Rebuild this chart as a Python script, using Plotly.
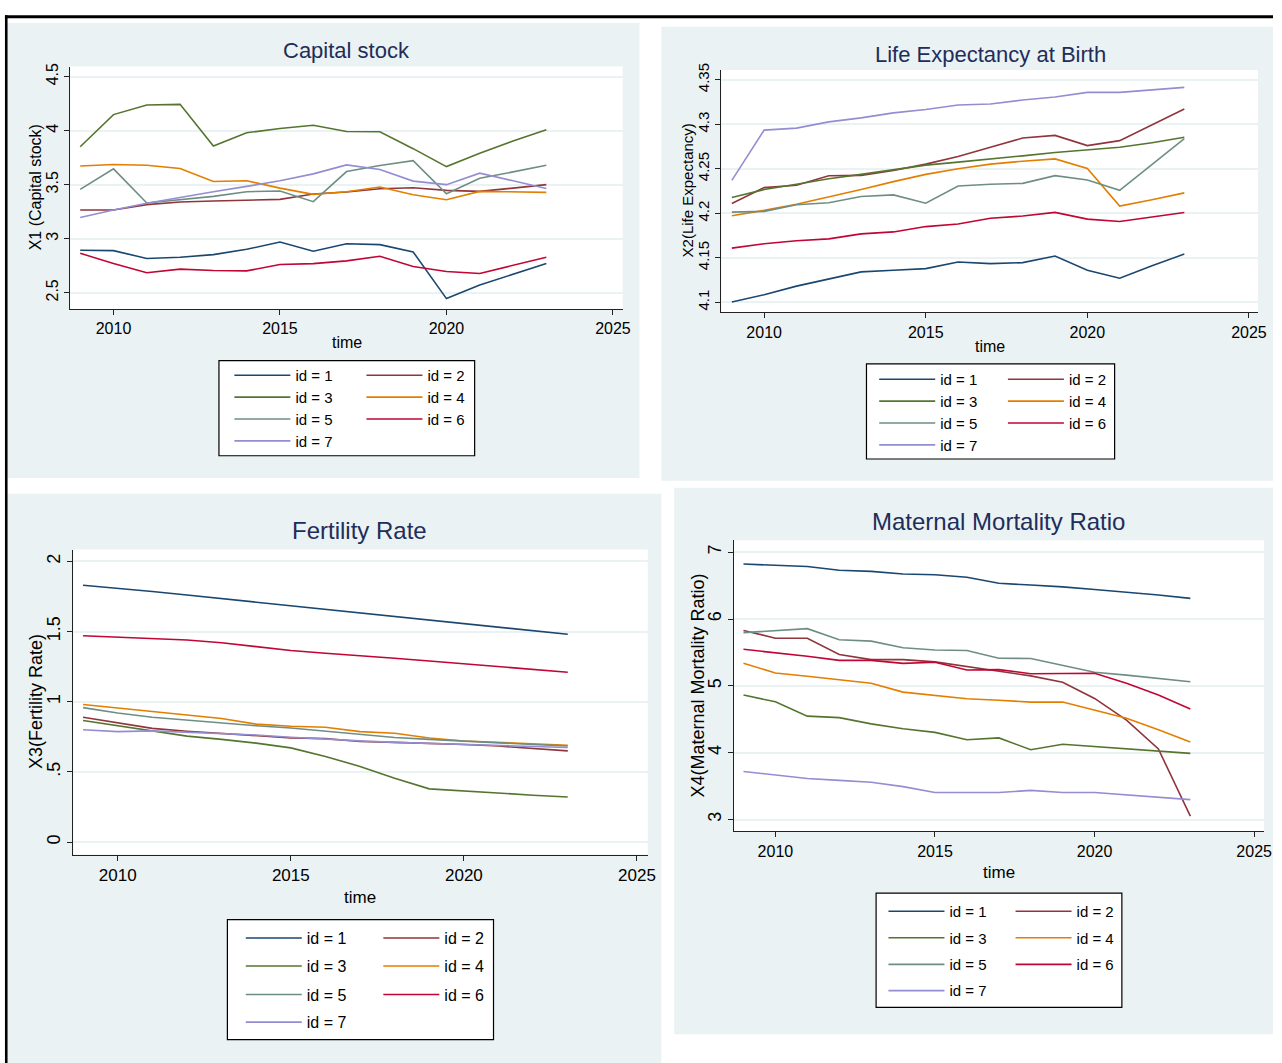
import plotly.graph_objects as go

# ---------------- data ----------------
years = list(range(2009, 2024))
series_names = ["id = 1", "id = 2", "id = 3", "id = 4", "id = 5", "id = 6", "id = 7"]

capital_stock = [
    [2.893, 2.890, 2.817, 2.829, 2.853, 2.902, 2.970, 2.884, 2.954, 2.945, 2.878, 2.446, 2.572, 2.673, 2.770],
    [3.266, 3.266, 3.315, 3.340, 3.349, 3.355, 3.364, 3.413, 3.432, 3.462, 3.471, 3.447, 3.438, 3.468, 3.500],
    [3.851, 4.148, 4.237, 4.243, 3.857, 3.980, 4.020, 4.050, 3.992, 3.989, 3.833, 3.667, 3.790, 3.903, 4.007],
    [3.673, 3.686, 3.680, 3.649, 3.530, 3.536, 3.468, 3.410, 3.435, 3.478, 3.407, 3.361, 3.438, 3.432, 3.429],
    [3.456, 3.646, 3.331, 3.358, 3.392, 3.435, 3.441, 3.343, 3.621, 3.677, 3.722, 3.416, 3.560, 3.618, 3.680],
    [2.865, 2.770, 2.685, 2.719, 2.706, 2.703, 2.761, 2.770, 2.795, 2.838, 2.743, 2.697, 2.679, 2.755, 2.829],
    [3.196, 3.266, 3.328, 3.383, 3.435, 3.484, 3.536, 3.600, 3.683, 3.640, 3.533, 3.500, 3.606, 3.536, 3.465],
]

life_expectancy = [
    [4.1004, 4.1085, 4.1182, 4.1264, 4.1342, 4.1360, 4.1379, 4.1453, 4.1435, 4.1446, 4.1520, 4.1360, 4.1271, 4.1412, 4.1542],
    [4.2110, 4.2289, 4.2315, 4.2423, 4.2426, 4.2482, 4.2553, 4.2638, 4.2742, 4.2846, 4.2876, 4.2761, 4.2817, 4.2999, 4.3173],
    [4.2178, 4.2267, 4.2326, 4.2389, 4.2438, 4.2493, 4.2542, 4.2575, 4.2608, 4.2646, 4.2683, 4.2712, 4.2742, 4.2794, 4.2854],
    [4.1973, 4.2033, 4.2103, 4.2181, 4.2267, 4.2356, 4.2438, 4.2501, 4.2553, 4.2586, 4.2612, 4.2504, 4.2081, 4.2152, 4.2230],
    [4.2014, 4.2022, 4.2096, 4.2118, 4.2189, 4.2207, 4.2114, 4.2308, 4.2326, 4.2337, 4.2423, 4.2374, 4.2259, 4.2549, 4.2839],
    [4.1609, 4.1658, 4.1691, 4.1713, 4.1769, 4.1791, 4.1851, 4.1880, 4.1944, 4.1970, 4.2010, 4.1935, 4.1909, 4.1961, 4.2010],
    [4.2370, 4.2935, 4.2958, 4.3028, 4.3073, 4.3129, 4.3166, 4.3218, 4.3229, 4.3273, 4.3307, 4.3359, 4.3359, 4.3389, 4.3415],
]

fertility_rate = [
    [1.830, 1.810, 1.785, 1.760, 1.735, 1.710, 1.685, 1.660, 1.635, 1.610, 1.585, 1.560, 1.535, 1.510, 1.480],
    [0.889, 0.847, 0.810, 0.790, 0.774, 0.758, 0.742, 0.737, 0.716, 0.710, 0.705, 0.695, 0.684, 0.668, 0.650],
    [0.866, 0.829, 0.787, 0.755, 0.732, 0.705, 0.671, 0.610, 0.539, 0.455, 0.379, 0.363, 0.347, 0.334, 0.321],
    [0.980, 0.955, 0.930, 0.905, 0.880, 0.840, 0.825, 0.818, 0.787, 0.775, 0.742, 0.720, 0.710, 0.700, 0.690],
    [0.958, 0.920, 0.889, 0.868, 0.847, 0.829, 0.813, 0.790, 0.763, 0.745, 0.732, 0.718, 0.705, 0.695, 0.684],
    [1.470, 1.460, 1.450, 1.440, 1.420, 1.390, 1.365, 1.345, 1.330, 1.310, 1.290, 1.270, 1.250, 1.230, 1.210],
    [0.800, 0.787, 0.792, 0.784, 0.776, 0.763, 0.747, 0.732, 0.721, 0.710, 0.703, 0.695, 0.687, 0.682, 0.674],
]

maternal_mortality = [
    [6.823, 6.807, 6.785, 6.729, 6.713, 6.674, 6.663, 6.624, 6.536, 6.508, 6.481, 6.442, 6.403, 6.359, 6.309],
    [5.829, 5.713, 5.713, 5.470, 5.392, 5.392, 5.359, 5.287, 5.215, 5.149, 5.055, 4.812, 4.486, 4.055, 3.050],
    [4.862, 4.762, 4.547, 4.525, 4.431, 4.359, 4.304, 4.193, 4.221, 4.044, 4.127, 4.094, 4.061, 4.028, 3.989],
    [5.337, 5.193, 5.144, 5.094, 5.039, 4.906, 4.856, 4.807, 4.785, 4.757, 4.757, 4.635, 4.514, 4.343, 4.160],
    [5.796, 5.823, 5.856, 5.691, 5.669, 5.569, 5.536, 5.530, 5.414, 5.409, 5.304, 5.204, 5.160, 5.110, 5.061],
    [5.547, 5.497, 5.442, 5.381, 5.381, 5.337, 5.354, 5.238, 5.243, 5.182, 5.182, 5.188, 5.040, 4.862, 4.652],
    [3.718, 3.663, 3.613, 3.586, 3.558, 3.492, 3.403, 3.403, 3.403, 3.436, 3.403, 3.403, 3.365, 3.331, 3.298],
]

x_ticks = [2010, 2015, 2020, 2025]
y_ticks_1 = [2.5, 3, 3.5, 4, 4.5]
y_labels_1 = ["2.5", "3", "3.5", "4", "4.5"]
y_ticks_2 = [4.1, 4.15, 4.2, 4.25, 4.3, 4.35]
y_labels_2 = ["4.1", "4.15", "4.2", "4.25", "4.3", "4.35"]
y_ticks_3 = [0, 0.5, 1, 1.5, 2]
y_labels_3 = ["0", ".5", "1", "1.5", "2"]
y_ticks_4 = [3, 4, 5, 6, 7]
y_labels_4 = ["3", "4", "5", "6", "7"]

titles = ["Capital stock", "Life Expectancy at Birth", "Fertility Rate", "Maternal Mortality Ratio"]
y_titles = ["X1 (Capital stock)", "X2(Life Expectancy)", "X3(Fertility Rate)", "X4(Maternal Mortality Ratio)"]
x_title = "time"

# ---------------- styling / layout (pixels) ----------------
W, H = 1282, 1063
FONT = "Liberation Sans, Arial, Helvetica, sans-serif"
colors = ["#1A476F", "#90353B", "#55752F", "#E37E00", "#6E8E84", "#C10534", "#938DD2"]
BG = "#EAF2F3"
TITLE_C = "#1F2D5A"
AX_C = "#222222"

panels = [
    dict(data=capital_stock, yt=y_ticks_1, yl=y_labels_1,
         bg=(7.3, 16, 644, 474), plot=(70.7, 60, 627, 304),
         xr=[2008.70, 2025.29], yr=[2.35, 4.592],
         title_xy=(349, 44), tsize=22, xt_xy=(349, 338), yt_xy=(35.8, 182),
         ytsize=16, ticksize=16, xticksize=16, xtsize=16,
         legbox=(220.5, 356, 478, 451.7), legtext=(297, 430), legrows=(371, 393, 415, 437), legsize=15),
    dict(data=life_expectancy, yt=y_ticks_2, yl=y_labels_2,
         bg=(666, 20, 1282, 477), plot=(726.6, 63.3, 1266.9, 307.3),
         xr=[2008.68, 2025.28], yr=[4.0888, 4.3612],
         title_xy=(997, 48), tsize=22, xt_xy=(997, 341.7), yt_xy=(692.5, 185),
         ytsize=15, ticksize=15, xticksize=16, xtsize=16,
         legbox=(872.6, 359.3, 1122.5, 455), legtext=(946.4, 1076), legrows=(375, 397, 419, 441), legsize=15),
    dict(data=fertility_rate, yt=y_ticks_3, yl=y_labels_3,
         bg=(7.3, 490, 666, 1063), plot=(73.9, 546.2, 652.3, 853.2),
         xr=[2008.72, 2025.31], yr=[-0.089, 2.0835],
         title_xy=(362, 527), tsize=24, xt_xy=(363, 896), yt_xy=(35.5, 699.3),
         ytsize=18, ticksize=18, xticksize=17, xtsize=17,
         legbox=(229, 918.7, 497, 1039.5), legtext=(308.5, 447), legrows=(937.2, 965.5, 994.1, 1022), legsize=16),
    dict(data=maternal_mortality, yt=y_ticks_4, yl=y_labels_4,
         bg=(679, 484, 1282, 1034), plot=(739.1, 536.9, 1273, 829.8),
         xr=[2008.70, 2025.31], yr=[2.823, 7.177],
         title_xy=(1006, 518), tsize=24, xt_xy=(1005.7, 871), yt_xy=(702.8, 683.2),
         ytsize=18, ticksize=18, xticksize=16, xtsize=17,
         legbox=(882.3, 891.9, 1129.8, 1007.1), legtext=(955.7, 1083.7), legrows=(910.5, 937.2, 964, 990.4), legsize=15),
]

ITEMW = 56
TEXT_OFF = ITEMW + 10


def px(x):
    return x / W


def py(y):
    return 1 - y / H


fig = go.Figure()
shapes = []
annotations = []
layout = {}

# outer frame lines
shapes.append(dict(type="line", xref="paper", yref="paper", x0=px(5), x1=px(1282), y0=py(9.7), y1=py(9.7),
                   line=dict(color="black", width=3), layer="above"))
shapes.append(dict(type="line", xref="paper", yref="paper", x0=px(6.3), x1=px(6.3), y0=py(8.3), y1=py(1063),
                   line=dict(color="black", width=2.6), layer="above"))

leg_n = 0
for k, p in enumerate(panels):
    sfx = "" if k == 0 else str(k + 1)
    bx0, by0, bx1, by1 = p["bg"]
    shapes.append(dict(type="rect", xref="paper", yref="paper", x0=px(bx0), x1=px(bx1), y0=py(by1), y1=py(by0),
                       fillcolor=BG, line=dict(width=0), layer="below"))
    x0, y0, x1, y1 = p["plot"]
    shapes.append(dict(type="rect", xref="paper", yref="paper", x0=px(x0), x1=px(x1), y0=py(y1), y1=py(y0),
                       fillcolor="white", line=dict(width=0), layer="below"))
    lx0, ly0, lx1, ly1 = p["legbox"]
    shapes.append(dict(type="rect", xref="paper", yref="paper", x0=px(lx0), x1=px(lx1), y0=py(ly1), y1=py(ly0),
                       fillcolor="white", line=dict(color="black", width=1.2), layer="below"))

    layout["xaxis" + sfx] = dict(
        domain=[px(x0), px(x1)], range=p["xr"], anchor="y" + sfx,
        tickvals=x_ticks, ticktext=[str(v) for v in x_ticks],
        showgrid=False, zeroline=False, showline=True, linecolor=AX_C, linewidth=1.2,
        ticks="outside", ticklen=5, tickwidth=1.2, tickcolor=AX_C,
        tickfont=dict(family=FONT, size=p["xticksize"], color="black"),
    )
    layout["yaxis" + sfx] = dict(
        domain=[py(y1), py(y0)], range=p["yr"], anchor="x" + sfx,
        tickvals=p["yt"], ticktext=p["yl"], tickangle=-90,
        showgrid=True, gridcolor=BG, gridwidth=2, zeroline=False,
        showline=True, linecolor=AX_C, linewidth=1.2,
        ticks="outside", ticklen=5, tickwidth=1.2, tickcolor=AX_C,
        tickfont=dict(family=FONT, size=p["ticksize"], color="black"),
    )

    tx, ty = p["title_xy"]
    annotations.append(dict(text=titles[k], x=px(tx), y=py(ty), xref="paper", yref="paper",
                            showarrow=False, xanchor="center", yanchor="middle",
                            font=dict(family=FONT, size=p["tsize"], color=TITLE_C)))
    ax, ay = p["xt_xy"]
    annotations.append(dict(text=x_title, x=px(ax), y=py(ay), xref="paper", yref="paper",
                            showarrow=False, xanchor="center", yanchor="middle",
                            font=dict(family=FONT, size=p["xtsize"], color="black")))
    yx, yy = p["yt_xy"]
    annotations.append(dict(text=y_titles[k], x=px(yx), y=py(yy), xref="paper", yref="paper",
                            showarrow=False, xanchor="center", yanchor="middle", textangle=-90,
                            font=dict(family=FONT, size=p["ytsize"], color="black")))

    for i, vals in enumerate(p["data"]):
        leg_n += 1
        lname = "legend" if leg_n == 1 else "legend%d" % leg_n
        col, row = i % 2, i // 2
        layout[lname] = dict(
            x=px(p["legtext"][col] - TEXT_OFF), y=py(p["legrows"][row]),
            xanchor="left", yanchor="middle", xref="paper", yref="paper",
            bgcolor="rgba(0,0,0,0)", borderwidth=0, itemwidth=ITEMW,
            font=dict(family=FONT, size=p["legsize"], color="black"),
        )
        fig.add_trace(go.Scatter(
            x=years, y=vals, mode="lines", name=series_names[i],
            line=dict(color=colors[i], width=1.6),
            xaxis="x" + sfx, yaxis="y" + sfx, legend=lname, showlegend=True,
        ))

fig.update_layout(
    width=W, height=H, autosize=False,
    margin=dict(l=0, r=0, t=0, b=0, pad=0),
    paper_bgcolor="white", plot_bgcolor="white",
    font=dict(family=FONT, color="black"),
    shapes=shapes, annotations=annotations, hovermode=False,
    **layout,
)

post_js = (
    "document.body.style.margin='0';"
    "document.body.style.overflow='hidden';"
)

fig.write_html(
    "out.html",
    config={"displayModeBar": False},
    post_script=post_js,
)
